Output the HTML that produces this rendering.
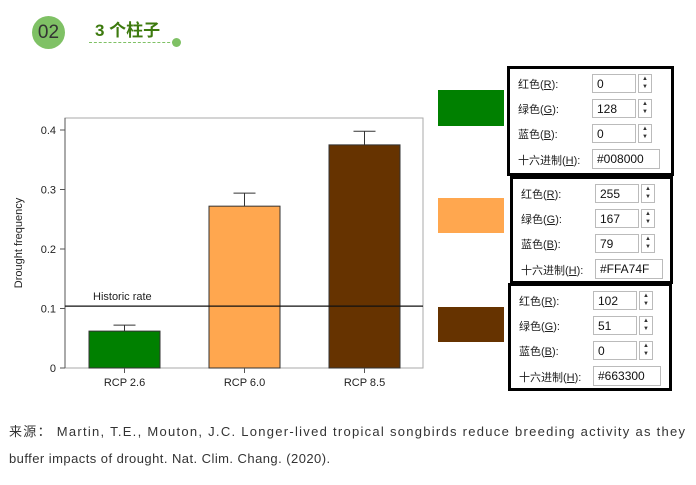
<!DOCTYPE html>
<html><head><meta charset="utf-8"><style>
body{margin:0;width:696px;height:485px;background:#fff;position:relative;overflow:hidden;font-family:"Liberation Sans","Noto Sans CJK SC",sans-serif}
.abs{position:absolute}
.box{position:absolute;border:3px solid #000;background:#fff;box-sizing:border-box}
.lbl{position:absolute;font-size:11px;color:#222;left:8px}
.fld{position:absolute;left:82px;height:19px;border:1px solid #bbb;box-sizing:border-box;font-size:12px;line-height:18px;padding-left:4px;color:#111;width:44px}
.spin{position:absolute;left:128px;width:14px;height:19px;border:1px solid #bbb;box-sizing:border-box;font-size:6px;line-height:8px;text-align:center;color:#333}
.hex{width:68px}
</style></head><body>
<div class="abs" style="left:32px;top:16px;width:33px;height:33px;border-radius:50%;background:#7fc165;color:#333;font-size:19px;text-align:center;line-height:33px">02</div>
<div class="abs" style="left:95px;top:16px;font-size:17px;font-weight:bold;color:#3d7a0e">3 个柱子</div>
<div class="abs" style="left:89px;top:42px;width:86px;border-top:1px dashed #7fc165"></div>
<div class="abs" style="left:172px;top:38px;width:9px;height:9px;border-radius:50%;background:#7fc165"></div>

<svg class="abs" style="left:0;top:0" width="440" height="400" id="chart"></svg>

<div class="abs" style="left:438px;top:90px;width:66px;height:36px;background:#008000"></div>
<div class="abs" style="left:438px;top:198px;width:66px;height:35px;background:#FFA74F"></div>
<div class="abs" style="left:438px;top:307px;width:66px;height:35px;background:#663300"></div>

<div id="boxes"></div>

<svg class="abs" style="left:0;top:415px" width="696" height="60">
<text x="9" y="21" font-size="13" fill="#333" textLength="676" lengthAdjust="spacing">来源： Martin, T.E., Mouton, J.C. Longer-lived tropical songbirds reduce breeding activity as they</text>
<text x="9" y="48" font-size="13" fill="#333" letter-spacing="0.45">buffer impacts of drought. Nat. Clim. Chang. (2020).</text>
</svg>

<script>
const categories=["RCP 2.6","RCP 6.0","RCP 8.5"];
const values=[0.062,0.272,0.375];
const errTop=[0.072,0.294,0.398];
const colors=["#008000","#FFA74F","#663300"];
const yTicks=[0,0.1,0.2,0.3,0.4];
const yTickLabels=["0","0.1","0.2","0.3","0.4"];
const historic=0.104;

const NS="http://www.w3.org/2000/svg";
const svg=document.getElementById('chart');
const L=65,R=423,T=118,B=368;
const y=v=>B-v*595;
const x=i=>89+i*120;
const bw=71;
function mk(t,a,p){const e=document.createElementNS(NS,t);for(const k in a)e.setAttribute(k,a[k]);(p||svg).appendChild(e);return e;}
const fr=mk('rect',{x:L,y:T,width:R-L,height:B-T,fill:'none',stroke:'#aaa','stroke-width':1});


const ax=mk('line',{x1:L,y1:T,x2:L,y2:B,stroke:'#555'});


yTicks.forEach((v,i)=>{
  const tk=mk('line',{x1:L-5,x2:L,y1:y(v),y2:y(v),stroke:'#555'});
  
  
  const t=mk('text',{x:L-9,y:y(v)+4,'text-anchor':'end','font-size':11,fill:'#222'});
  t.textContent=yTickLabels[i];
  
  
});
const yt=mk('text',{x:22,y:243,'text-anchor':'middle','font-size':11,fill:'#222',transform:'rotate(-90 22 243)'});
yt.textContent='Drought frequency';


categories.forEach((c,i)=>{
  const cx=x(i)+bw/2;
  const el=mk('line',{x1:cx,x2:cx,y1:y(errTop[i]),y2:y(values[i]),stroke:'#333'});
  
  
  const ec=mk('line',{x1:cx-11,x2:cx+11,y1:y(errTop[i]),y2:y(errTop[i]),stroke:'#333'});
  
  
  const r=mk('rect',{x:x(i),y:y(values[i]),width:bw,height:B-y(values[i]),fill:colors[i],stroke:'#333','stroke-width':1});
  
  
  const tk=mk('line',{x1:cx,x2:cx,y1:B,y2:B+5,stroke:'#555'});
  
  
  const t=mk('text',{x:cx,y:B+18,'text-anchor':'middle','font-size':11,fill:'#222'});
  t.textContent=c;
  
  
});
const hl=mk('line',{x1:L,x2:R,y1:y(historic),y2:y(historic),stroke:'#111','stroke-width':1.2});


const ht=mk('text',{x:93,y:y(historic)-6,'font-size':11,fill:'#222'});
ht.textContent='Historic rate';



const boxData=[
 {top:66,left:507,w:167,h:110,vals:["0","128","0"],hex:"#008000",n:"green"},
 {top:176,left:510,w:163,h:108,vals:["255","167","79"],hex:"#FFA74F",n:"orange"},
 {top:283,left:508,w:164,h:108,vals:["102","51","0"],hex:"#663300",n:"brown"}];
const names=["红色(<u>R</u>):","绿色(<u>G</u>):","蓝色(<u>B</u>):"];
const wrap=document.getElementById('boxes');
boxData.forEach(b=>{
  const d=document.createElement('div');
  d.className='box';
  
  
  d.style.cssText=`left:${b.left}px;top:${b.top}px;width:${b.w}px;height:${b.h}px`;
  let h='';
  b.vals.forEach((v,i)=>{
    const ty=5+i*25;
    h+=`<div class="lbl" style="top:${ty+2}px">${names[i]}</div>`;
    h+=`<div class="fld" style="top:${ty}px">${v}</div>`;
    h+=`<div class="spin" style="top:${ty}px">▲<br>▼</div>`;
  });
  h+=`<div class="lbl" style="top:${5+75+3}px">十六进制(<u>H</u>):</div>`;
  h+=`<div class="fld hex" style="top:${5+75}px;height:20px;line-height:19px">${b.hex}</div>`;
  d.innerHTML=h;
  wrap.appendChild(d);
});
</script>
</body></html>
